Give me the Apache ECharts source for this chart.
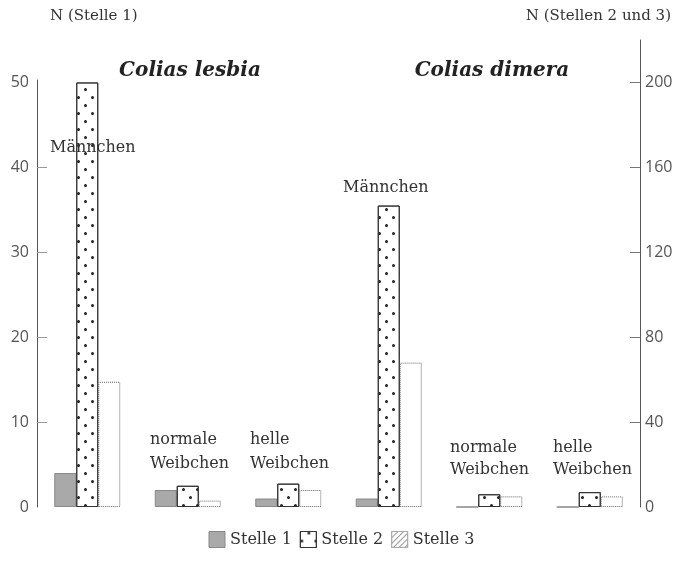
<!DOCTYPE html>
<html>
<head>
<meta charset="utf-8">
<script src="https://cdn.jsdelivr.net/npm/echarts@6/dist/echarts.min.js"></script>
<style>
  html, body { margin: 0; padding: 0; background: #fff; }
  #chart { width: 683px; height: 569px; }
</style>
</head>
<body>
<div id="chart"></div>
<script>
// Kategorien: je Art drei Gruppen
var categories = ['lesbia Männchen', 'lesbia normale Weibchen', 'lesbia helle Weibchen',
                  'dimera Männchen', 'dimera normale Weibchen', 'dimera helle Weibchen'];
// Stelle 1 -> linke Achse, Stellen 2 und 3 -> rechte Achse
var stelle1 = [4, 2, 1, 1, 0, 0];
var stelle2 = [200, 10, 11, 142, 6, 7];
var stelle3 = [59, 3, 8, 68, 5, 5];
var leftTicks = [0, 10, 20, 30, 40, 50];
var rightTicks = [0, 40, 80, 120, 160, 200];

var serif = '"DejaVu Serif", "Liberation Serif", serif';
var sans = '"Open Sans", "DejaVu Sans", sans-serif';

var hatch = {
  symbol: 'rect',
  rotation: -Math.PI / 4,
  dashArrayX: [1, 0],
  dashArrayY: [1, 3],
  color: '#999'
};
var dots = {
  symbol: 'circle',
  symbolSize: 1,
  dashArrayX: [[3, 11], [0, 7, 3, 4]],
  dashArrayY: [3, 4.5],
  color: '#222'
};

var chart = echarts.init(document.getElementById('chart'));

var option = {
  backgroundColor: '#fff',
  animation: false,
  legend: {
    bottom: 16,
    left: 'center',
    icon: 'rect',
    itemWidth: 16,
    itemHeight: 16,
    itemGap: 8,
    itemStyle: { borderWidth: 1 },
    textStyle: { fontFamily: serif, fontSize: 16, color: '#333' },
    data: [
      { name: 'Stelle 1' },
      { name: 'Stelle 2' },
      { name: 'Stelle 3', itemStyle: { decal: hatch, borderColor: '#aaa' } }
    ]
  },
  grid: [
    { left: 37, right: 43, top: 40, bottom: 62 },
    { left: 37, right: 43, top: 80, bottom: 62 }
  ],
  xAxis: [
    {
      type: 'category', data: categories, gridIndex: 0,
      axisLine: { show: false }, axisTick: { show: false }, axisLabel: { show: false }
    },
    {
      type: 'category', data: categories, gridIndex: 1, show: false
    }
  ],
  yAxis: [
    {
      type: 'value', position: 'left', gridIndex: 0, min: 0, max: 55,
      axisLine: { show: false },
      axisTick: { show: true, inside: true, length: 10, customValues: [10, 20, 30, 40],
                  lineStyle: { color: '#999' } },
      axisLabel: { customValues: leftTicks, margin: 8, fontFamily: sans, fontSize: 16, color: '#555' },
      splitLine: { show: false }
    },
    {
      type: 'value', position: 'right', gridIndex: 0, min: 0, max: 220,
      axisLine: { show: true, lineStyle: { color: '#555' } },
      axisTick: { show: true, inside: true, length: 10, customValues: [40, 80, 120, 160, 200],
                  lineStyle: { color: '#777' } },
      axisLabel: { customValues: rightTicks, margin: 5, fontFamily: sans, fontSize: 16, color: '#555' },
      splitLine: { show: false }
    },
    {
      // nur die linke Achsenlinie, die erst bei 50 beginnt
      type: 'value', position: 'left', gridIndex: 1, min: 0, max: 1,
      axisLine: { show: true, lineStyle: { color: '#555' } },
      axisTick: { show: false }, axisLabel: { show: false }, splitLine: { show: false }
    }
  ],
  series: [
    {
      name: 'Stelle 1', type: 'bar', xAxisIndex: 0, yAxisIndex: 0,
      barWidth: 22, barGap: '0%',
      itemStyle: { color: '#a9a9a9', borderColor: '#888', borderWidth: 1 },
      data: stelle1
    },
    {
      name: 'Stelle 2', type: 'bar', xAxisIndex: 0, yAxisIndex: 1,
      barWidth: 22, barGap: '0%',
      itemStyle: { color: '#fff', borderColor: '#333', borderWidth: 1, decal: dots },
      data: stelle2
    },
    {
      name: 'Stelle 3', type: 'bar', xAxisIndex: 0, yAxisIndex: 1,
      barWidth: 22, barGap: '0%',
      itemStyle: { color: '#fff', borderColor: '#666', borderWidth: 1, borderType: 'dotted' },
      data: stelle3
    }
  ],
  graphic: [
    { type: 'text', left: 50, top: 9,
      style: { text: 'N (Stelle 1)', font: '15px ' + serif, fill: '#333' } },
    { type: 'text', right: 12, top: 9,
      style: { text: 'N (Stellen 2 und 3)', font: '15px ' + serif, fill: '#333' } },
    { type: 'text', x: 190, y: 71, z: 10,
      style: { text: 'Colias lesbia', font: 'italic bold 20px ' + serif, fill: '#222',
               textAlign: 'center', textVerticalAlign: 'middle' } },
    { type: 'text', x: 492, y: 71, z: 10,
      style: { text: 'Colias dimera', font: 'italic bold 20px ' + serif, fill: '#222',
               textAlign: 'center', textVerticalAlign: 'middle' } },
    { type: 'text', x: 50, y: 148, z: 10,
      style: { text: 'Männchen', font: '16px ' + serif, fill: '#333', textVerticalAlign: 'middle' } },
    { type: 'text', x: 343, y: 188, z: 10,
      style: { text: 'Männchen', font: '16px ' + serif, fill: '#333', textVerticalAlign: 'middle' } },
    { type: 'text', x: 150, y: 428, z: 10,
      style: { text: 'normale\nWeibchen', font: '16px ' + serif, lineHeight: 24, fill: '#333' } },
    { type: 'text', x: 250, y: 428, z: 10,
      style: { text: 'helle\nWeibchen', font: '16px ' + serif, lineHeight: 24, fill: '#333' } },
    { type: 'text', x: 450, y: 437, z: 10,
      style: { text: 'normale\nWeibchen', font: '16px ' + serif, lineHeight: 22, fill: '#333' } },
    { type: 'text', x: 553, y: 437, z: 10,
      style: { text: 'helle\nWeibchen', font: '16px ' + serif, lineHeight: 22, fill: '#333' } }
  ]
};

chart.setOption(option);
</script>
</body>
</html>
